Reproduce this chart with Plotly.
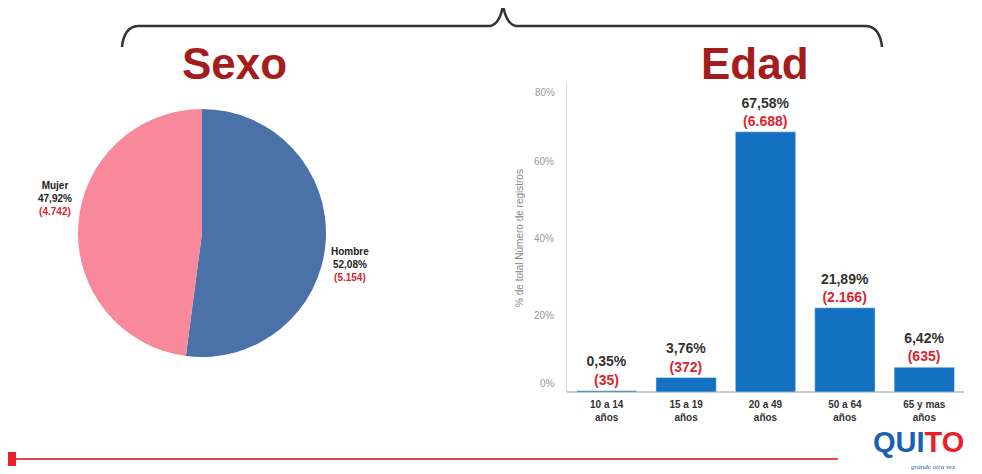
import plotly.graph_objects as go

# data
sexo_labels = ["Hombre", "Mujer"]
sexo_pct = [52.08, 47.92]
sexo_count = ["5.154", "4.742"]
sexo_colors = ["#4a72a8", "#f7899a"]

edad_labels = ["10 a 14<br>años", "15 a 19<br>años", "20 a 49<br>años", "50 a 64<br>años", "65 y mas<br>años"]
edad_pct = [0.35, 3.76, 67.58, 21.89, 6.42]
edad_count = ["35", "372", "6.688", "2.166", "635"]
y_ticks = [0, 20, 40, 60, 80]

# the page body puts the plot 8px in from the window corner
OFF = 8
W, H = 982 - OFF, 474 - OFF
RED = "#d8262e"


def px(x, y):
    # screenshot pixel -> paper coords
    return (x - OFF) / W, 1 - (y - OFF) / H


def fmt_pct(v):
    return f"{v:.2f}".replace(".", ",") + "%"


fig = go.Figure()

pie_l, pie_t = px(202 - 124, 233 - 125)
pie_r, pie_b = px(202 + 124, 233 + 125)
fig.add_trace(go.Pie(
    labels=sexo_labels,
    values=sexo_pct,
    marker=dict(colors=sexo_colors),
    sort=False,
    direction="clockwise",
    rotation=0,
    textinfo="none",
    hoverinfo="label+percent",
    domain=dict(x=[pie_l, pie_r], y=[pie_b, pie_t]),
    showlegend=False,
))

bar_text = [f"<b>{fmt_pct(p)}<br><span style='color:{RED}'>({c})</span></b>"
            for p, c in zip(edad_pct, edad_count)]
fig.add_trace(go.Bar(
    x=edad_labels,
    y=edad_pct,
    marker_color="#1470c0",
    text=bar_text,
    textposition="outside",
    textfont=dict(size=14, color="#333", family="Liberation Sans"),
    cliponaxis=False,
    showlegend=False,
))

# pie labels
pie_pos = {"Hombre": (350, 264), "Mujer": (55, 198)}
for lab, p, c in zip(sexo_labels, sexo_pct, sexo_count):
    xx, yy = px(*pie_pos[lab])
    fig.add_annotation(
        x=xx, y=yy, xref="paper", yref="paper", showarrow=False,
        xanchor="center", yanchor="middle",
        text=f"<b>{lab}<br>{fmt_pct(p)}<br><span style='color:{RED}'>({c})</span></b>",
        font=dict(size=10, color="#222", family="Liberation Sans"),
        align="center",
    )

# section titles
for t, (tx, ty) in [("Sexo", (234, 63)), ("Edad", (755, 63))]:
    xx, yy = px(tx, ty)
    fig.add_annotation(x=xx, y=yy, xref="paper", yref="paper", showarrow=False,
                       xanchor="center", yanchor="middle",
                       text=f"<b>{t}</b>",
                       font=dict(size=44, color="#a51c1c", family="Liberation Sans"))

# curly brace on top
p = {
    "a": px(122, 47), "b": px(124, 27), "c": px(138, 26),
    "d": px(490, 26), "e": px(500, 24), "f": px(503, 5),
    "g": px(506, 24), "h": px(516, 26), "i": px(866, 26),
    "j": px(880, 27), "k": px(882, 47),
}
path = (f"M {p['a'][0]},{p['a'][1]} Q {p['b'][0]},{p['b'][1]} {p['c'][0]},{p['c'][1]} "
        f"L {p['d'][0]},{p['d'][1]} Q {p['e'][0]},{p['e'][1]} {p['f'][0]},{p['f'][1]} "
        f"Q {p['g'][0]},{p['g'][1]} {p['h'][0]},{p['h'][1]} "
        f"L {p['i'][0]},{p['i'][1]} Q {p['j'][0]},{p['j'][1]} {p['k'][0]},{p['k'][1]}")
fig.add_shape(type="path", path=path, xref="paper", yref="paper",
              line=dict(color="#333", width=2.5))

# bottom red rule
x0, y0 = px(14, 459)
x1, _ = px(838, 459)
fig.add_shape(type="line", x0=x0, x1=x1, y0=y0, y1=y0, xref="paper", yref="paper",
              line=dict(color="#e8474c", width=2))
sx0, sy0 = px(8, 452)
sx1, sy1 = px(16, 466)
fig.add_shape(type="rect", x0=sx0, x1=sx1, y0=sy0, y1=sy1, xref="paper", yref="paper",
              fillcolor="#e8202a", line=dict(width=0))

# QUITO logo (text stand-in)
lx, ly = px(872, 442)
fig.add_annotation(x=lx, y=ly, xref="paper", yref="paper", showarrow=False,
                   xanchor="left", yanchor="middle", borderpad=0,
                   text="<b><span style='color:#1b5fb0'>QUI</span>"
                        "<span style='color:#e8202a'>TO</span></b>",
                   font=dict(size=29, family="Liberation Sans"))
lx, ly = px(910, 467)
fig.add_annotation(x=lx, y=ly, xref="paper", yref="paper", showarrow=False,
                   xanchor="left", yanchor="middle", borderpad=0,
                   text="<i>grande otra vez</i>",
                   font=dict(size=7, color="#1b5fb0", family="Liberation Serif"))

# bar axes: 0% sits at y=392, 80% at y=84
ax_l, ax_t = px(567, 84)
ax_r, ax_b = px(964, 392)

# end tick labels pulled inward, as in the source tool
for v, shift in [(y_ticks[0], 9), (y_ticks[-1], -9)]:
    fig.add_annotation(x=ax_l, y=v, xref="paper", yref="y", showarrow=False,
                       xanchor="right", yanchor="middle", xshift=-10, yshift=shift,
                       text=f"{v}%", font=dict(size=10, color="#999", family="Liberation Sans"))

fig.update_layout(
    width=W, height=H,
    margin=dict(l=0, r=0, t=0, b=0),
    paper_bgcolor="white",
    plot_bgcolor="white",
    bargap=0.24,
    xaxis=dict(
        domain=[ax_l, ax_r],
        tickfont=dict(size=10, color="#333", family="Liberation Sans"),
        showline=False, ticks="", ticklabelstandoff=5,
        tickprefix="<b>", ticksuffix="</b>",
    ),
    yaxis=dict(
        domain=[ax_b, ax_t],
        range=[0, 80],
        tickmode="array",
        tickvals=y_ticks[1:-1],
        ticktext=[f"{v}%" for v in y_ticks[1:-1]],
        tickfont=dict(size=10, color="#999", family="Liberation Sans"),
        showgrid=False, zeroline=True, zerolinecolor="#ccc",
        showline=True, linecolor="#ddd",
        ticks="", ticklabelstandoff=10,
        title=dict(text="% de total Número de registros",
                   font=dict(size=10, color="#888", family="Liberation Sans"),
                   standoff=8),
    ),
)

fig.write_html("out.html")
